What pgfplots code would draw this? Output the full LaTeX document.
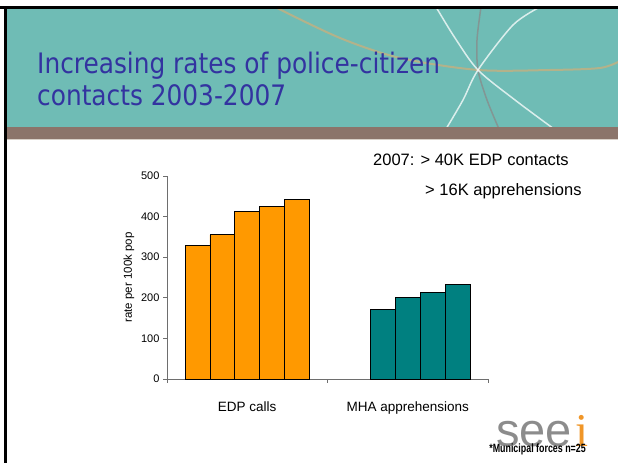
\documentclass[border=0pt]{standalone}
\usepackage{fontspec}
\setmainfont{Liberation Sans}
\newfontfamily\titlefont[FakeStretch=0.88]{DejaVu Sans}
\newfontfamily\logofont{Liberation Serif}
\usepackage{pgfplots}
\pgfplotsset{compat=1.18}
\definecolor{hdr}{RGB}{111,188,181}
\definecolor{band}{RGB}{139,116,106}
\definecolor{bandline}{RGB}{216,208,200}
\definecolor{titleblue}{RGB}{51,51,160}
\definecolor{tan}{RGB}{196,176,128}
\definecolor{arcgray}{RGB}{130,150,148}
\definecolor{edp}{RGB}{255,153,0}
\definecolor{mha}{RGB}{0,128,128}
\definecolor{axisgray}{RGB}{110,110,110}
\definecolor{logogray}{RGB}{140,140,140}
\definecolor{logoorange}{RGB}{240,150,40}

\begin{document}
\begin{tikzpicture}[x=1pt,y=1pt]
\path[use as bounding box] (0,0) rectangle (618,463);
\fill[white] (0,0) rectangle (618,463);

% header
\fill[hdr] (7,336) rectangle (618,454);
\begin{scope}
\clip (7,336) rectangle (618,454);
\draw[tan, line width=2pt, opacity=0.8] plot[smooth] coordinates {(275,456) (340,425) (400,405) (478,393) (550,393) (600,395) (620,402)};
\draw[arcgray, line width=1.5pt] plot[smooth] coordinates {(481,456) (477,423) (478,393) (487,363) (499,334)};
\draw[white, opacity=0.75, line width=1.5pt] plot[smooth] coordinates {(436,456) (455,425) (478,393) (515,363) (554,334)};
\draw[white, opacity=0.75, line width=1.5pt] plot[smooth] coordinates {(540,456) (513,438) (478,393) (463,363) (446,334)};
\end{scope}
\fill[band] (7,324) rectangle (618,336);
\fill[bandline] (7,323) rectangle (618,324);
\fill[black] (0,454) rectangle (618,457);
\fill[black] (4,0) rectangle (7,457);

\node[anchor=base west, inner sep=0pt, text=titleblue] at (37,389) {\titlefont\fontsize{28.2}{33}\selectfont Increasing rates of police-citizen};
\node[anchor=base west, inner sep=0pt, text=titleblue] at (37,357) {\titlefont\fontsize{28.2}{33}\selectfont contacts 2003-2007};

\node[anchor=base west, inner sep=0pt] at (373,297) {\fontsize{16.5}{20}\selectfont 2007: > 40K EDP contacts};
\node[anchor=base west, inner sep=0pt] at (425,267) {\fontsize{16.5}{20}\selectfont > 16K apprehensions};

% logo
\node[anchor=base west, inner sep=0pt, text=logogray] at (496,17) {\fontsize{47}{50}\selectfont see};
\node[anchor=base west, inner sep=0pt, text=logoorange] at (575,17) {\logofont\fontsize{47}{50}\selectfont i};
\node[anchor=base east, inner sep=0pt] at (586,11) {\scalebox{0.74}[1]{\bfseries\fontsize{12}{14}\selectfont *Municipal forces n=25}};

\begin{axis}[
  at={(167pt,84pt)}, anchor=south west,
  width=321pt, height=203pt, scale only axis,
  xmin=-0.5, xmax=1.5, ymin=0, ymax=500,
  axis x line=bottom, axis y line=left,
  axis line style={-, draw=axisgray, line width=0.8pt},
  ytick={0,100,200,300,400,500},
  xtick={0,1}, xticklabels={EDP calls, MHA apprehensions},
  minor xtick={-0.5,0.5,1.5},
  tick align=outside,
  major tick length=4pt, minor tick length=4pt,
  x tick style={draw=none},
  minor x tick style={draw=axisgray, line width=0.8pt},
  y tick style={draw=axisgray, line width=0.8pt},
  /pgf/number format/assume math mode=true,
  yticklabel style={font=\fontsize{11}{13}\selectfont},
  xticklabel style={font=\fontsize{13.5}{16}\selectfont, yshift=-15pt},
  ylabel={rate per 100k pop},
  ylabel style={font=\fontsize{11.5}{14}\selectfont},
  clip=false,
]
\addplot[ybar, bar width=0.155, bar shift=0pt, fill=edp, draw=black, line width=0.8pt]
  coordinates {(-0.31,328) (-0.155,355) (0,413) (0.155,426) (0.31,443)};
\addplot[ybar, bar width=0.155, bar shift=0pt, fill=mha, draw=black, line width=0.8pt]
  coordinates {(0.845,172) (1.0,201) (1.155,214) (1.31,232)};
\end{axis}
\end{tikzpicture}
\end{document}
